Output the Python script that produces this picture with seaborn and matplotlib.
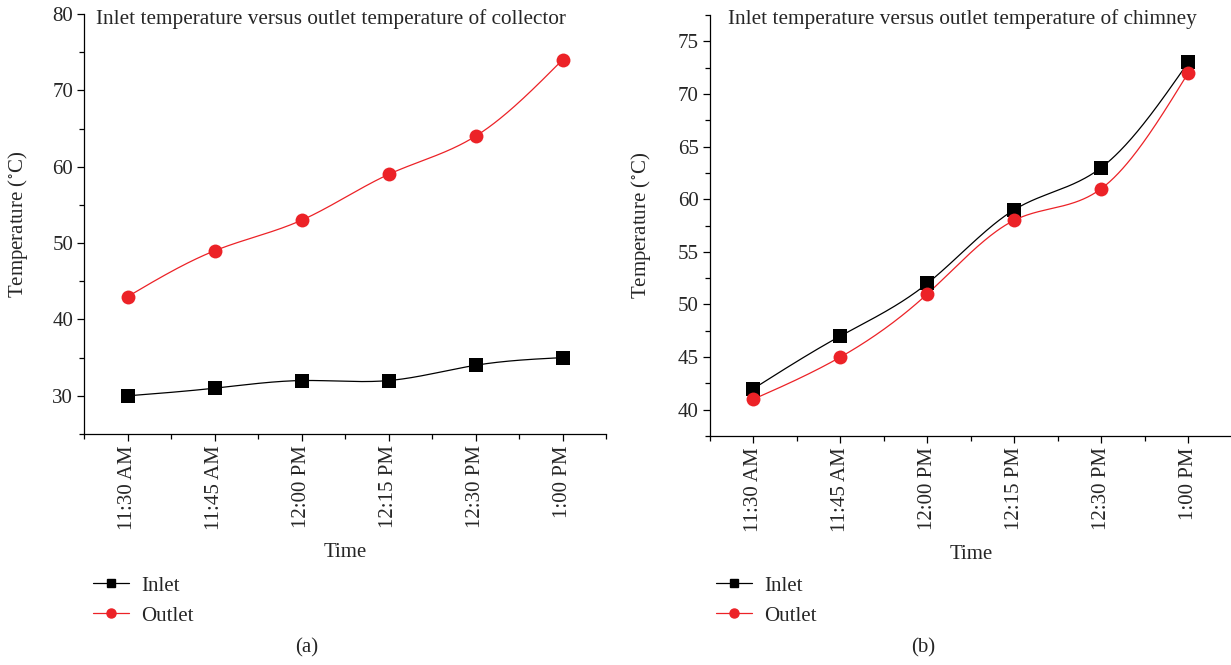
import numpy as np
import pandas as pd
import matplotlib
matplotlib.use("Agg")
import matplotlib.pyplot as plt
from matplotlib.lines import Line2D
from matplotlib.ticker import FixedLocator, MultipleLocator
import seaborn as sns

# ---- data ----
times = ["11:30 AM", "11:45 AM", "12:00 PM", "12:15 PM", "12:30 PM", "1:00 PM"]

collector_inlet = [30, 31, 32, 32, 34, 35]
collector_outlet = [43, 49, 53, 59, 64, 74]

chimney_inlet = [42, 47, 52, 59, 63, 73]
chimney_outlet = [41, 45, 51, 58, 61, 72]

RED = "#ec2227"
BLACK = "#000000"

sns.set_theme(style="ticks")
plt.rcParams["font.family"] = ["Liberation Serif", "DejaVu Serif"]
plt.rcParams["mathtext.fontset"] = "stix"
FS = 15


def smooth_curve(y, n=300):
    """Natural cubic spline through the points (for drawing only)."""
    y = np.asarray(y, dtype=float)
    x = np.arange(len(y), dtype=float)
    m = len(x)
    h = np.diff(x)
    A = np.zeros((m, m))
    b = np.zeros(m)
    A[0, 0] = A[-1, -1] = 1
    for i in range(1, m - 1):
        A[i, i - 1] = h[i - 1]
        A[i, i] = 2 * (h[i - 1] + h[i])
        A[i, i + 1] = h[i]
        b[i] = 6 * ((y[i + 1] - y[i]) / h[i] - (y[i] - y[i - 1]) / h[i - 1])
    M = np.linalg.solve(A, b)
    xs = np.linspace(x[0], x[-1], n)
    idx = np.clip(np.searchsorted(x, xs) - 1, 0, m - 2)
    x0, x1 = x[idx], x[idx + 1]
    hh = x1 - x0
    ys = (M[idx] * (x1 - xs) ** 3 / (6 * hh) + M[idx + 1] * (xs - x0) ** 3 / (6 * hh)
          + (y[idx] / hh - M[idx] * hh / 6) * (x1 - xs)
          + (y[idx + 1] / hh - M[idx + 1] * hh / 6) * (xs - x0))
    return xs, ys


def draw_panel(ax, inlet, outlet, ylim, major, minor):
    for vals, color, marker, size in [(inlet, BLACK, "s", 90), (outlet, RED, "o", 100)]:
        xs, ys = smooth_curve(vals)
        sns.lineplot(x=xs, y=ys, ax=ax, color=color, lw=0.9, estimator=None,
                     sort=False, legend=False)
        pts = pd.DataFrame({"x": np.arange(len(times)), "y": vals})
        sns.scatterplot(data=pts, x="x", y="y", ax=ax, color=color, marker=marker,
                        s=size, edgecolor=color, linewidth=0, legend=False, zorder=3)

    ax.set_xlim(-0.5, len(times) - 0.5)
    ax.set_ylim(*ylim)
    ax.xaxis.set_major_locator(FixedLocator(np.arange(len(times))))
    ax.xaxis.set_minor_locator(FixedLocator(np.arange(len(times) + 1) - 0.5))
    ax.set_xticklabels(times, rotation=90, fontsize=FS)
    ax.yaxis.set_major_locator(MultipleLocator(major))
    ax.yaxis.set_minor_locator(MultipleLocator(minor))
    ax.tick_params(axis="y", labelsize=FS)
    ax.tick_params(which="major", direction="out", length=5, width=0.9, color="black", pad=3)
    ax.tick_params(which="minor", direction="out", length=3.5, width=0.9, color="black")
    for s in ["top", "right"]:
        ax.spines[s].set_visible(False)
    for s in ["left", "bottom"]:
        ax.spines[s].set_linewidth(0.9)
        ax.spines[s].set_color("black")
    ax.set_xlabel("Time", fontsize=FS)
    ax.set_ylabel("Temperature ($^{\\circ}$C)", fontsize=FS)


W, H = 1231, 665
fig = plt.figure(figsize=(W / 100, H / 100), dpi=100)

ax_a = fig.add_axes([84.3 / W, 1 - 434 / H, 521.7 / W, 420 / H])
ax_b = fig.add_axes([710 / W, 1 - 436 / H, 521.7 / W, 421 / H])

draw_panel(ax_a, collector_inlet, collector_outlet, (25, 80), 10, 5)
draw_panel(ax_b, chimney_inlet, chimney_outlet, (37.5, 77.5), 5, 2.5)

for ax in (ax_a, ax_b):
    ax.xaxis.set_label_coords(0.5, -0.282)
    ax.xaxis.label.set_va("center")
    ax.yaxis.label.set_va("center")
ax_a.yaxis.set_label_coords((18 - 84.3) / 521.7, 0.5)
ax_b.yaxis.set_label_coords((641 - 710) / 521.7, 0.5)

fig.text(96 / W, 1 - 9 / H, "Inlet temperature versus outlet temperature of collector",
         fontsize=15.3, va="top", ha="left")
fig.text(728 / W, 1 - 9 / H, "Inlet temperature versus outlet temperature of chimney",
         fontsize=15.3, va="top", ha="left")

handles = [
    Line2D([0], [0], color=BLACK, lw=0.9, marker="s", markersize=6),
    Line2D([0], [0], color=RED, lw=0.9, marker="o", markersize=6.5),
]
for x0 in (93, 716):
    fig.legend(handles, ["Inlet", "Outlet"], loc="upper left",
               bbox_to_anchor=(x0 / W, 1 - 576 / H), frameon=False, fontsize=FS,
               borderpad=0, borderaxespad=0, handlelength=1.75, handletextpad=0.55,
               labelspacing=0.5)

fig.text(307 / W, 1 - 648 / H, "(a)", fontsize=FS, ha="center", va="center")
fig.text(923 / W, 1 - 648 / H, "(b)", fontsize=FS, ha="center", va="center")

fig.savefig("out.png", dpi=100)
